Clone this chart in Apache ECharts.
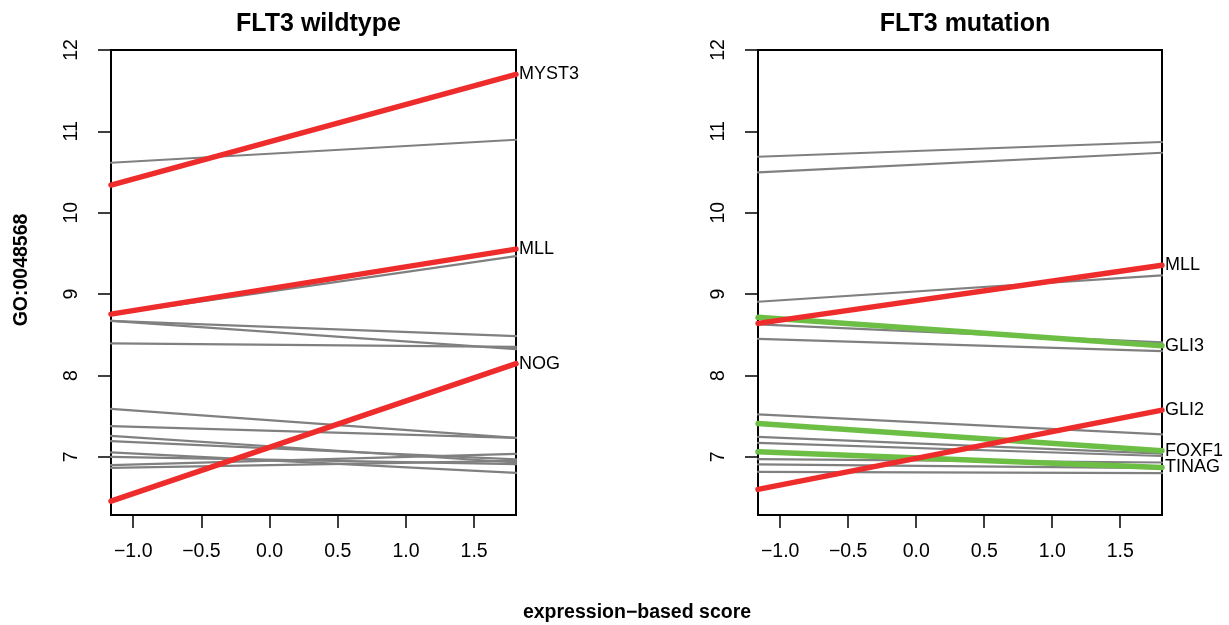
<!DOCTYPE html>
<html><head><meta charset="utf-8">
<script src="https://cdn.jsdelivr.net/npm/echarts@6/dist/echarts.min.js"></script>
<style>html,body{margin:0;padding:0;background:#fff}#c{width:1229px;height:625px}</style>
</head><body><div id="c"></div>
<script>
// ---- data ----
const xRange = [-1.163, 1.807];           // score at left and right end of each line
const xTicks = [-1.0, -0.5, 0.0, 0.5, 1.0, 1.5];
const yTicks = [7, 8, 9, 10, 11, 12];
const yRange = [6.285, 12.0];
const panelTitles = ['FLT3 wildtype', 'FLT3 mutation'];
const yTitle = 'GO:0048568';
const xTitle = 'expression\u2212based score';

// FLT3 wildtype
const wtGrey = [[10.614,10.897],[8.75,9.467],[8.672,8.484],[8.672,8.324],[8.394,8.352],
  [7.59,7.234],[7.377,7.234],[7.258,6.93],[7.193,6.968],[7.054,6.803],[7.0,6.91],[6.898,7.037],[6.865,6.95]];
const wtUpNames = ['MYST3','MLL','NOG'];
const wtUp = [[10.34,11.70],[8.754,9.553],[6.455,8.145]];
const wtDownNames = [];
const wtDown = [];

// FLT3 mutation
const mutGrey = [[10.688,10.869],[10.497,10.737],[8.906,9.23],[8.628,8.406],[8.45,8.30],
  [7.521,7.275],[7.246,7.04],[7.172,7.01],[6.972,6.93],[6.907,6.86],[6.816,6.80]];
const mutDownNames = ['GLI3','FOXF1','TINAG'];
const mutDown = [[8.714,8.365],[7.41,7.074],[7.061,6.87]];
const mutUpNames = ['MLL','GLI2'];
const mutUp = [[8.64,9.355],[6.60,7.574]];

// ---- chart ----
const FONT = 'Liberation Sans, Arial, sans-serif';
const RED = '#EE2C2C', GREEN = '#6CBE45', GREY = '#808080';
const chart = echarts.init(document.getElementById('c'), null, {renderer:'canvas'});

function fmtX(v){ return (v<0?'\u2212':'') + Math.abs(v).toFixed(1); }

function mkSeries(idx, vals, names, color, width){
  return vals.map((v,i)=>({
    type:'line', xAxisIndex:idx, yAxisIndex:idx,
    data:[[xRange[0],v[0]],[xRange[1],v[1]]],
    symbol:'none', clip:false, silent:true, animation:false,
    lineStyle:{color, width, cap:'round'},
    endLabel: names && names[i] ? {show:true, formatter:names[i], color:'#000', fontFamily:FONT, fontSize:18, distance:3} : {show:false}
  }));
}

const grids = [
  {left:111, right:1229-516, top:50, bottom:625-515},
  {left:758, right:1229-1162, top:50, bottom:625-515}
];
const xAxes = grids.map((g,i)=>({
  type:'value', gridIndex:i, min:xRange[0], max:xRange[1], position:'bottom',
  axisLine:{show:false, onZero:false}, splitLine:{show:false},
  axisTick:{show:true, inside:false, length:13, lineStyle:{color:'#000', width:1.5}, customValues:xTicks},
  axisLabel:{color:'#000', fontFamily:FONT, fontSize:19.5, margin:27, formatter:fmtX, customValues:xTicks}
}));
const yAxes = grids.map((g,i)=>({
  type:'value', gridIndex:i, min:yRange[0], max:yRange[1], position:'left',
  axisLine:{show:false, onZero:false}, splitLine:{show:false},
  axisTick:{show:true, inside:false, length:13, lineStyle:{color:'#000', width:1.5}, customValues:yTicks},
  axisLabel:{color:'#000', fontFamily:FONT, fontSize:19.5, margin:29, rotate:90, customValues:yTicks}
}));

const series = [
  ...mkSeries(0, wtGrey, null, GREY, 2.2),
  ...mkSeries(0, wtDown, wtDownNames, GREEN, 5.5),
  ...mkSeries(0, wtUp, wtUpNames, RED, 5.5),
  ...mkSeries(1, mutGrey, null, GREY, 2.2),
  ...mkSeries(1, mutDown, mutDownNames, GREEN, 5.5),
  ...mkSeries(1, mutUp, mutUpNames, RED, 5.5)
];

chart.setOption({
  animation:false,
  backgroundColor:'#fff',
  title: panelTitles.map((t,i)=>({
    text:t, left: i===0 ? 313.5 : 960, top:7, textAlign:'center',
    textStyle:{fontFamily:FONT, fontWeight:'bold', fontSize:25, color:'#000'}
  })),
  grid: grids.map(g=>Object.assign({show:true, borderColor:'#000', borderWidth:2, backgroundColor:'transparent'}, g)),
  xAxis: xAxes, yAxis: yAxes, series,
  graphic:[
    {type:'text', x:22, y:270, rotation:Math.PI/2,
     style:{text:yTitle, fontFamily:FONT, fontWeight:'bold', fontSize:19.5, fill:'#000', textAlign:'center', textVerticalAlign:'middle'}},
    {type:'text', x:637, y:613,
     style:{text:xTitle, fontFamily:FONT, fontWeight:'bold', fontSize:19.5, fill:'#000', textAlign:'center', textVerticalAlign:'middle'}}
  ]
});
</script></body></html>
